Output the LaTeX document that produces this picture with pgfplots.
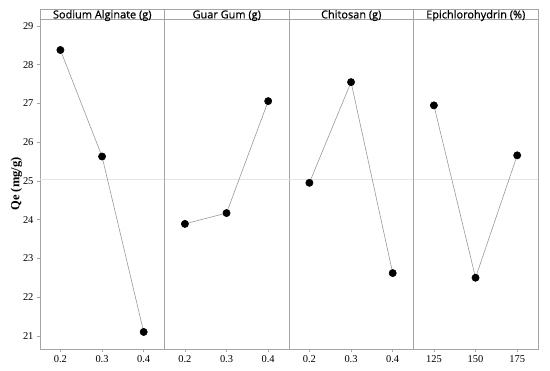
\documentclass[border=0pt]{standalone}
\usepackage{pgfplots}
\pgfplotsset{compat=1.18}
\usepgfplotslibrary{groupplots}
\usepackage{fontspec}
\setmainfont{Liberation Serif}
\newfontfamily\hdr[FakeBold=0.6]{Open Sans}
\definecolor{frame}{RGB}{165,165,165}
\pgfplotsset{
  panel/.style={after end axis/.code={
    \draw[frame, line width=0.6bp] (rel axis cs:0,1) rectangle ([yshift=10bp]rel axis cs:1,1);
    \node[font=\hdr\fontsize{11}{12}\selectfont, anchor=base, inner sep=0pt] at ([yshift=0.6bp]rel axis cs:0.5,1) {#1};
  }},
}
\begin{document}
\begin{tikzpicture}
\begin{groupplot}[
  group style={group size=4 by 1, horizontal sep=0pt},
  width=124.5bp, height=330bp, scale only axis,
  ymin=20.66, ymax=29.18,
  axis line style={frame, line width=0.6bp},
  tick style={frame, line width=0.6bp},
  tick align=outside, major tick length=3bp,
  xtick pos=lower, ytick pos=left,
  ticklabel style={font=\rmfamily\fontsize{10.5}{12}\selectfont},
  /pgf/number format/assume math mode=true,
  clip=false,
]
\nextgroupplot[panel={Sodium Alginate (g)}, xmin=0.151, xmax=0.45, xtick={0.2,0.3,0.4},
  ytick={21,22,...,29},
  ylabel={Qe (mg/g)}, ylabel style={font=\bfseries\fontsize{12.5}{13}\selectfont, yshift=-6bp}]
\addplot[gray!20, line width=0.5bp] coordinates {(0.151,25.03) (0.45,25.03)};
\addplot[gray!80, line width=0.6bp, mark=*, mark size=3.6bp, mark options={black, fill=black}] coordinates {(0.2,28.38) (0.3,25.63) (0.4,21.10)};
\nextgroupplot[panel={Guar Gum (g)}, xmin=0.151, xmax=0.45, xtick={0.2,0.3,0.4}, ytick=\empty]
\addplot[gray!20, line width=0.5bp] coordinates {(0.151,25.03) (0.45,25.03)};
\addplot[gray!80, line width=0.6bp, mark=*, mark size=3.6bp, mark options={black, fill=black}] coordinates {(0.2,23.89) (0.3,24.17) (0.4,27.06)};
\nextgroupplot[panel={Chitosan (g)}, xmin=0.151, xmax=0.45, xtick={0.2,0.3,0.4}, ytick=\empty]
\addplot[gray!20, line width=0.5bp] coordinates {(0.151,25.03) (0.45,25.03)};
\addplot[gray!80, line width=0.6bp, mark=*, mark size=3.6bp, mark options={black, fill=black}] coordinates {(0.2,24.95) (0.3,27.55) (0.4,22.62)};
\nextgroupplot[panel={Epichlorohydrin (\%)}, xmin=112.75, xmax=187.5, xtick={125,150,175}, ytick=\empty]
\addplot[gray!20, line width=0.5bp] coordinates {(112.75,25.03) (187.5,25.03)};
\addplot[gray!80, line width=0.6bp, mark=*, mark size=3.6bp, mark options={black, fill=black}] coordinates {(125,26.95) (150,22.50) (175,25.66)};
\end{groupplot}
\path[use as bounding box] ([shift={(-40bp,-22bp)}]group c1r1.south west) rectangle ([shift={(12bp,19bp)}]group c4r1.north east);
\end{tikzpicture}
\end{document}
